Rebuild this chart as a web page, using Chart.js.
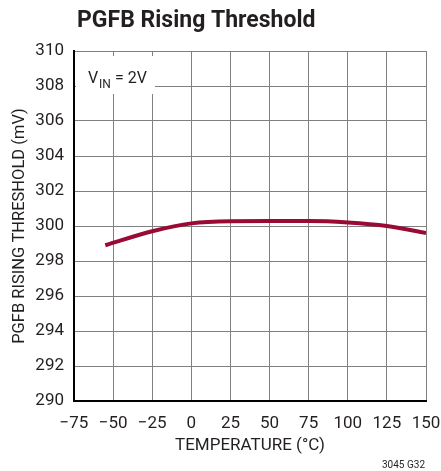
<!DOCTYPE html>
<html lang="en">
<head>
    <meta charset="UTF-8">
    <title>PGFB Rising Threshold</title>
    <script src="https://cdn.jsdelivr.net/npm/chart.js"></script>
    <style>
        html, body { margin: 0; padding: 0; background: #fff; }
        #wrap { width: 441px; height: 471px; }
    </style>
</head>
<body>
    <div id="wrap"><canvas id="chart"></canvas></div>

    <script>
    // values
    const temps = [-55, -25, 0, 25, 50, 75, 100, 125, 150];
    const threshold = [298.9, 299.7, 300.15, 300.27, 300.28, 300.28, 300.2, 300.0, 299.6];
    const xTicks = [-75, -50, -25, 0, 25, 50, 75, 100, 125, 150];
    const yTicks = [290, 292, 294, 296, 298, 300, 302, 304, 306, 308, 310];

    const face = "Roboto, sans-serif";
    const textColor = '#231f20';

    // title, V_IN note and figure number
    const labels = {
        id: 'labels',
        beforeDatasetsDraw(chart) {
            const ctx = chart.ctx;
            ctx.save();
            ctx.fillStyle = '#fff';
            ctx.fillRect(76, 56, 79, 38);
            ctx.fillStyle = textColor;
            ctx.font = "16px " + face;
            ctx.textBaseline = 'alphabetic';
            ctx.fillText('V', 88, 83);
            ctx.font = "12px " + face;
            ctx.fillText('IN', 99, 88);
            ctx.font = "16px " + face;
            ctx.fillText('= 2V', 115, 83);
            ctx.restore();
        },
        afterDraw(chart) {
            const ctx = chart.ctx;
            ctx.save();
            ctx.fillStyle = textColor;
            ctx.font = "bold 23px " + face;
            ctx.fillText('PGFB Rising Threshold', 77, 27);
            ctx.font = "10px " + face;
            ctx.textAlign = 'right';
            ctx.fillText('3045 G32', 425, 468);
            ctx.restore();
        }
    };

    new Chart(document.getElementById('chart'), {
        type: 'line',
        data: {
            datasets: [{
                data: temps.map((t, i) => ({x: t, y: threshold[i]})),
                borderColor: '#990a35',
                borderWidth: 4,
                pointRadius: 0,
                cubicInterpolationMode: 'monotone',
                fill: false
            }]
        },
        options: {
            responsive: true,
            maintainAspectRatio: false,
            animation: false,
            events: [],
            layout: { padding: { left: 0, right: 15, top: 51, bottom: 0 } },
            plugins: { legend: { display: false }, tooltip: { enabled: false } },
            scales: {
                x: {
                    type: 'linear',
                    min: -75, max: 150,
                    afterFit: s => { s.height = 70; s.paddingLeft = 0; s.paddingRight = 0; },
                    afterBuildTicks: s => { s.ticks = xTicks.map(v => ({value: v})); },
                    border: { color: '#000', width: 2 },
                    grid: { color: '#808080', lineWidth: 1, drawTicks: false },
                    ticks: {
                        padding: 13,
                        color: textColor,
                        font: { family: face, size: 17 },
                        callback: v => v < 0 ? '\u2212' + Math.abs(v) : '' + v
                    },
                    title: {
                        display: true,
                        text: 'TEMPERATURE (\u00B0C)',
                        color: textColor,
                        font: { family: face, size: 17 },
                        padding: { top: 0, bottom: 15 }
                    }
                },
                y: {
                    min: 290, max: 310,
                    afterFit: s => { s.width = 74; s.paddingTop = 0; s.paddingBottom = 0; },
                    afterBuildTicks: s => { s.ticks = yTicks.map(v => ({value: v})); },
                    border: { color: '#000', width: 2 },
                    grid: { color: '#808080', lineWidth: 1, drawTicks: false },
                    ticks: {
                        padding: 10,
                        color: textColor,
                        font: { family: face, size: 17 }
                    },
                    title: {
                        display: true,
                        text: 'PGFB RISING THRESHOLD (mV)',
                        color: textColor,
                        font: { family: face, size: 16.5 },
                        padding: { top: 10, bottom: 0 }
                    }
                }
            }
        },
        plugins: [labels]
    });
    </script>
</body>
</html>
